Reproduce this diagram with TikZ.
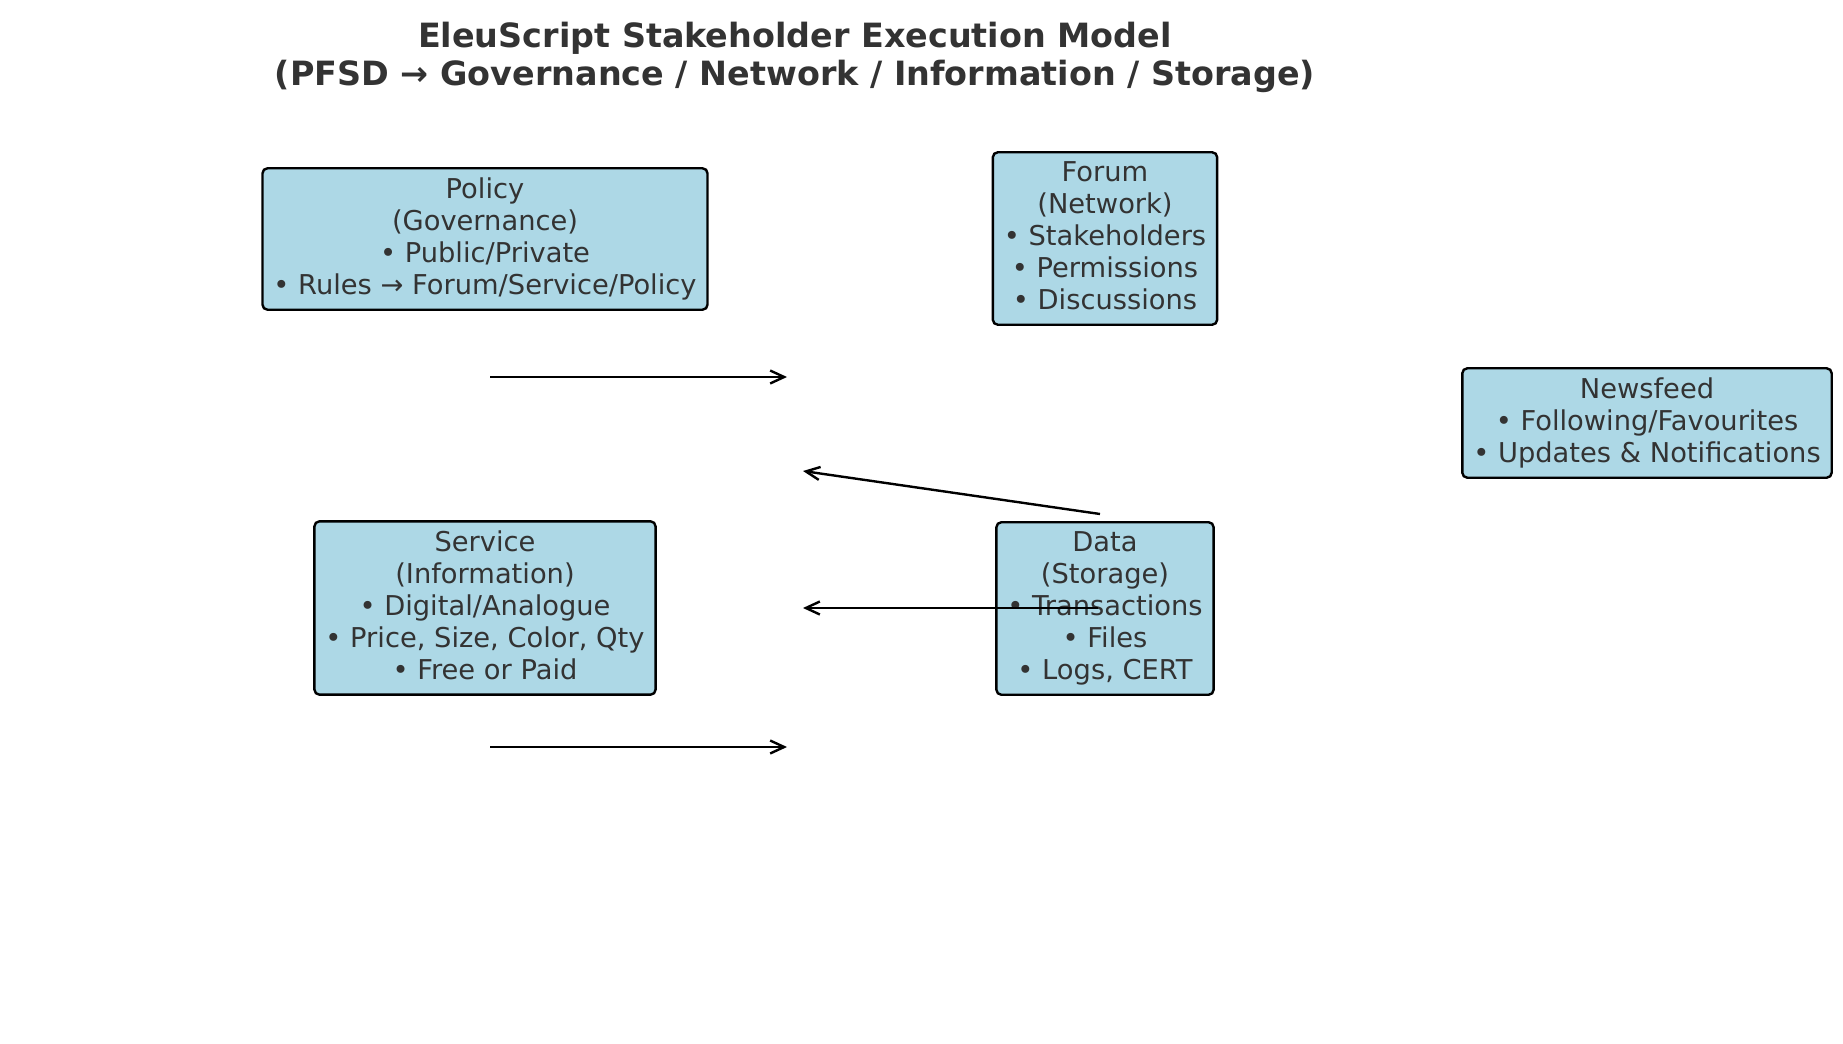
\documentclass[tikz,border=0pt]{standalone}
\usepackage{fontspec}
\setmainfont{DejaVu Sans}
\usetikzlibrary{arrows.meta}
\definecolor{boxblue}{HTML}{ADD8E6}
\definecolor{txtgray}{HTML}{333333}
\newcommand{\topstrut}{\rule{0pt}{13.2pt}}
\newcommand{\botstrut}{\rule[-2.8pt]{0pt}{2.8pt}}
\begin{document}
\begin{tikzpicture}[x=0.5pt,y=-0.5pt,
  box/.style={draw=black,line width=1.2pt,fill=boxblue,rounded corners=2.5pt,align=center,
    text=txtgray,font=\fontsize{13.65}{16}\selectfont,inner xsep=5.5pt,inner ysep=4.75pt,
    execute at begin node=\topstrut,execute at end node=\botstrut},
  arr/.style={-{Straight Barb[length=7pt,width=6.5pt]},line width=1.2pt}]
\useasboundingbox (0,0) rectangle (1843,1044);
\node[font=\bfseries\fontsize{16.7}{19}\selectfont,text=txtgray,align=center] (title) at (795,57.5)
  {EleuScript Stakeholder Execution Model\\(PFSD → Governance / Network / Information / Storage)};
% the five boxes
\node[box] (policy) at (485,239) {Policy\\(Governance)\\• Public/Private\\• Rules → Forum/Service/Policy};
\node[box] (forum) at (1105,238.5) {Forum\\(Network)\\• Stakeholders\\• Permissions\\• Discussions};
\node[box] (newsfeed) at (1647,423) {Newsfeed\\• Following/Favourites\\• Updates \& Notifications};
\node[box] (service) at (485,608) {Service\\(Information)\\• Digital/Analogue\\• Price, Size, Color, Qty\\• Free or Paid};
\node[box] (data) at (1105,608.5) {Data\\(Storage)\\• Transactions\\• Files\\• Logs, CERT};
% arrow ends
\coordinate (polout) at (490,377);
\coordinate (polin) at (787,377);
\coordinate (datatop) at (1100,514);
\coordinate (upin) at (803,471);
\coordinate (datamid) at (1098,608);
\coordinate (midin) at (803,608);
\coordinate (serout) at (490,747);
\coordinate (serin) at (787,747);
\draw[arr] (polout) -- (polin);
\draw[arr] (datatop) -- (upin);
\draw[arr] (datamid) -- (midin);
\draw[arr] (serout) -- (serin);
\end{tikzpicture}
\end{document}
